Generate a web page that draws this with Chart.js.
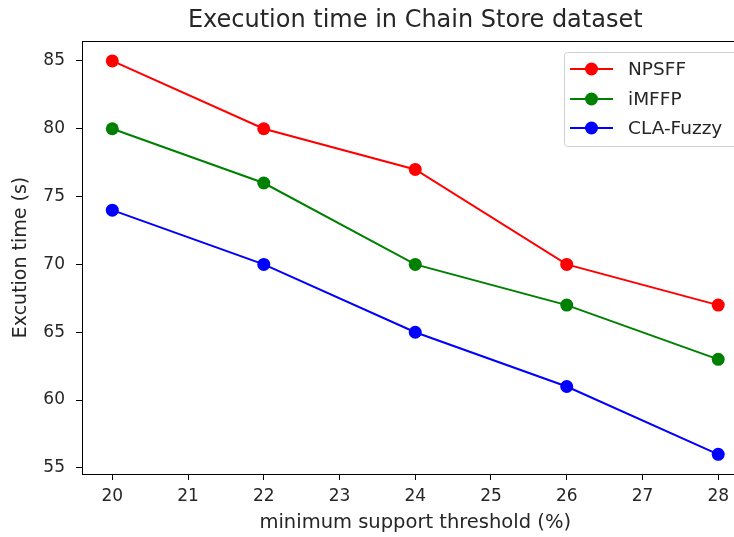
<!DOCTYPE html>
<html>
<head>
<meta charset="utf-8">
<script src="https://cdn.jsdelivr.net/npm/chart.js@4.4.0/dist/chart.umd.min.js"></script>
<style>
  html, body { margin: 0; padding: 0; background: #fff; overflow: hidden; }
  #wrap { width: 755px; height: 537px; }
</style>
</head>
<body>
<div id="wrap"><canvas id="myChart" width="755" height="537"></canvas></div>
<script>
// ===================== Data =====================
const thresholds = [20, 22, 24, 26, 28];
const npsff = [85, 80, 77, 70, 67];
const imffp = [80, 76, 70, 67, 63];
const claFuzzy = [74, 70, 65, 61, 56];
const seriesNames = ["NPSFF", "iMFFP", "CLA-Fuzzy"];
const seriesColors = ["#ff0000", "#008000", "#0000ff"];
const xTicks = [20, 21, 22, 23, 24, 25, 26, 27, 28];
const yTicks = [55, 60, 65, 70, 75, 80, 85];
const chartTitle = "Execution time in Chain Store dataset";
// ===================== Data =====================

const FONT = "'DejaVu Sans', sans-serif";
const TEXT = '#262626';

function toPoints(values) {
    return thresholds.map((t, i) => ({ x: t, y: values[i] }));
}

function makeDataset(label, values, color) {
    return {
        label: label,
        data: toPoints(values),
        borderColor: color,
        backgroundColor: color,
        pointBackgroundColor: color,
        pointBorderWidth: 0,
        borderWidth: 2,
        pointRadius: 6.5,
        pointHoverRadius: 6.5,
        tension: 0
    };
}

// frame, title and legend drawn like matplotlib
const framePlugin = {
    id: 'frame',
    afterDraw(chart) {
        const ctx = chart.ctx;
        const a = chart.chartArea;
        ctx.save();
        ctx.strokeStyle = '#000';
        ctx.lineWidth = 1;
        ctx.strokeRect(a.left + 0.5, a.top + 0.5, a.right - a.left, a.bottom - a.top);

        // title
        ctx.fillStyle = TEXT;
        ctx.font = "24px " + FONT;
        ctx.textAlign = 'center';
        ctx.textBaseline = 'middle';
        ctx.fillText(chartTitle, (a.left + a.right) / 2, 21);

        // legend
        const bx = 564, by = 52, bw = 200, bh = 94;
        ctx.beginPath();
        ctx.roundRect(bx + 0.5, by + 0.5, bw, bh, 3);
        ctx.fillStyle = 'rgba(255,255,255,0.8)';
        ctx.fill();
        ctx.strokeStyle = '#d0d0d0';
        ctx.stroke();
        const rows = [69, 99, 128];
        ctx.font = "18.5px " + FONT;
        ctx.textAlign = 'left';
        chart.data.datasets.forEach((ds, i) => {
            const y = rows[i];
            ctx.strokeStyle = ds.borderColor;
            ctx.lineWidth = 2;
            ctx.beginPath();
            ctx.moveTo(570, y);
            ctx.lineTo(613, y);
            ctx.stroke();
            ctx.fillStyle = ds.borderColor;
            ctx.beginPath();
            ctx.arc(591.5, y, 6.5, 0, Math.PI * 2);
            ctx.fill();
            ctx.fillStyle = TEXT;
            ctx.fillText(ds.label, 628, y + 1);
        });
        ctx.restore();
    }
};

const ctx = document.getElementById("myChart").getContext("2d");
const chart = new Chart(ctx, {
    type: "line",
    data: {
        datasets: [
            makeDataset(seriesNames[0], npsff, seriesColors[0]),
            makeDataset(seriesNames[1], imffp, seriesColors[1]),
            makeDataset(seriesNames[2], claFuzzy, seriesColors[2]),
        ]
    },
    options: {
        responsive: false,
        animation: false,
        layout: { padding: { top: 41, left: 0, right: 0, bottom: 0 } },
        plugins: {
            legend: { display: false },
            title: { display: false },
            tooltip: { enabled: false }
        },
        scales: {
            x: {
                type: "linear",
                min: 19.6,
                max: 28.4,
                grid: { drawOnChartArea: false, drawTicks: true, tickLength: 6, color: '#000' },
                border: { display: true, color: '#000' },
                ticks: { color: TEXT, font: { family: FONT, size: 17 }, padding: 6 },
                afterBuildTicks: s => { s.ticks = xTicks.map(v => ({ value: v })); },
                afterFit: s => { s.height = 63; },
                title: { display: true, text: "minimum support threshold (%)", color: TEXT, font: { family: FONT, size: 19.5 }, padding: { top: 0, bottom: 2 } }
            },
            y: {
                min: 54.55,
                max: 86.47,
                grid: { drawOnChartArea: false, drawTicks: true, tickLength: 6, color: '#000' },
                border: { display: true, color: '#000' },
                ticks: { color: TEXT, font: { family: FONT, size: 17 }, padding: 11 },
                afterBuildTicks: s => { s.ticks = yTicks.map(v => ({ value: v })); },
                afterFit: s => { s.width = 82; },
                title: { display: true, text: "Excution time (s)", color: TEXT, font: { family: FONT, size: 19 }, padding: { top: 10, bottom: 0 } }
            }
        }
    },
    plugins: [framePlugin]
});
</script>
</body>
</html>
